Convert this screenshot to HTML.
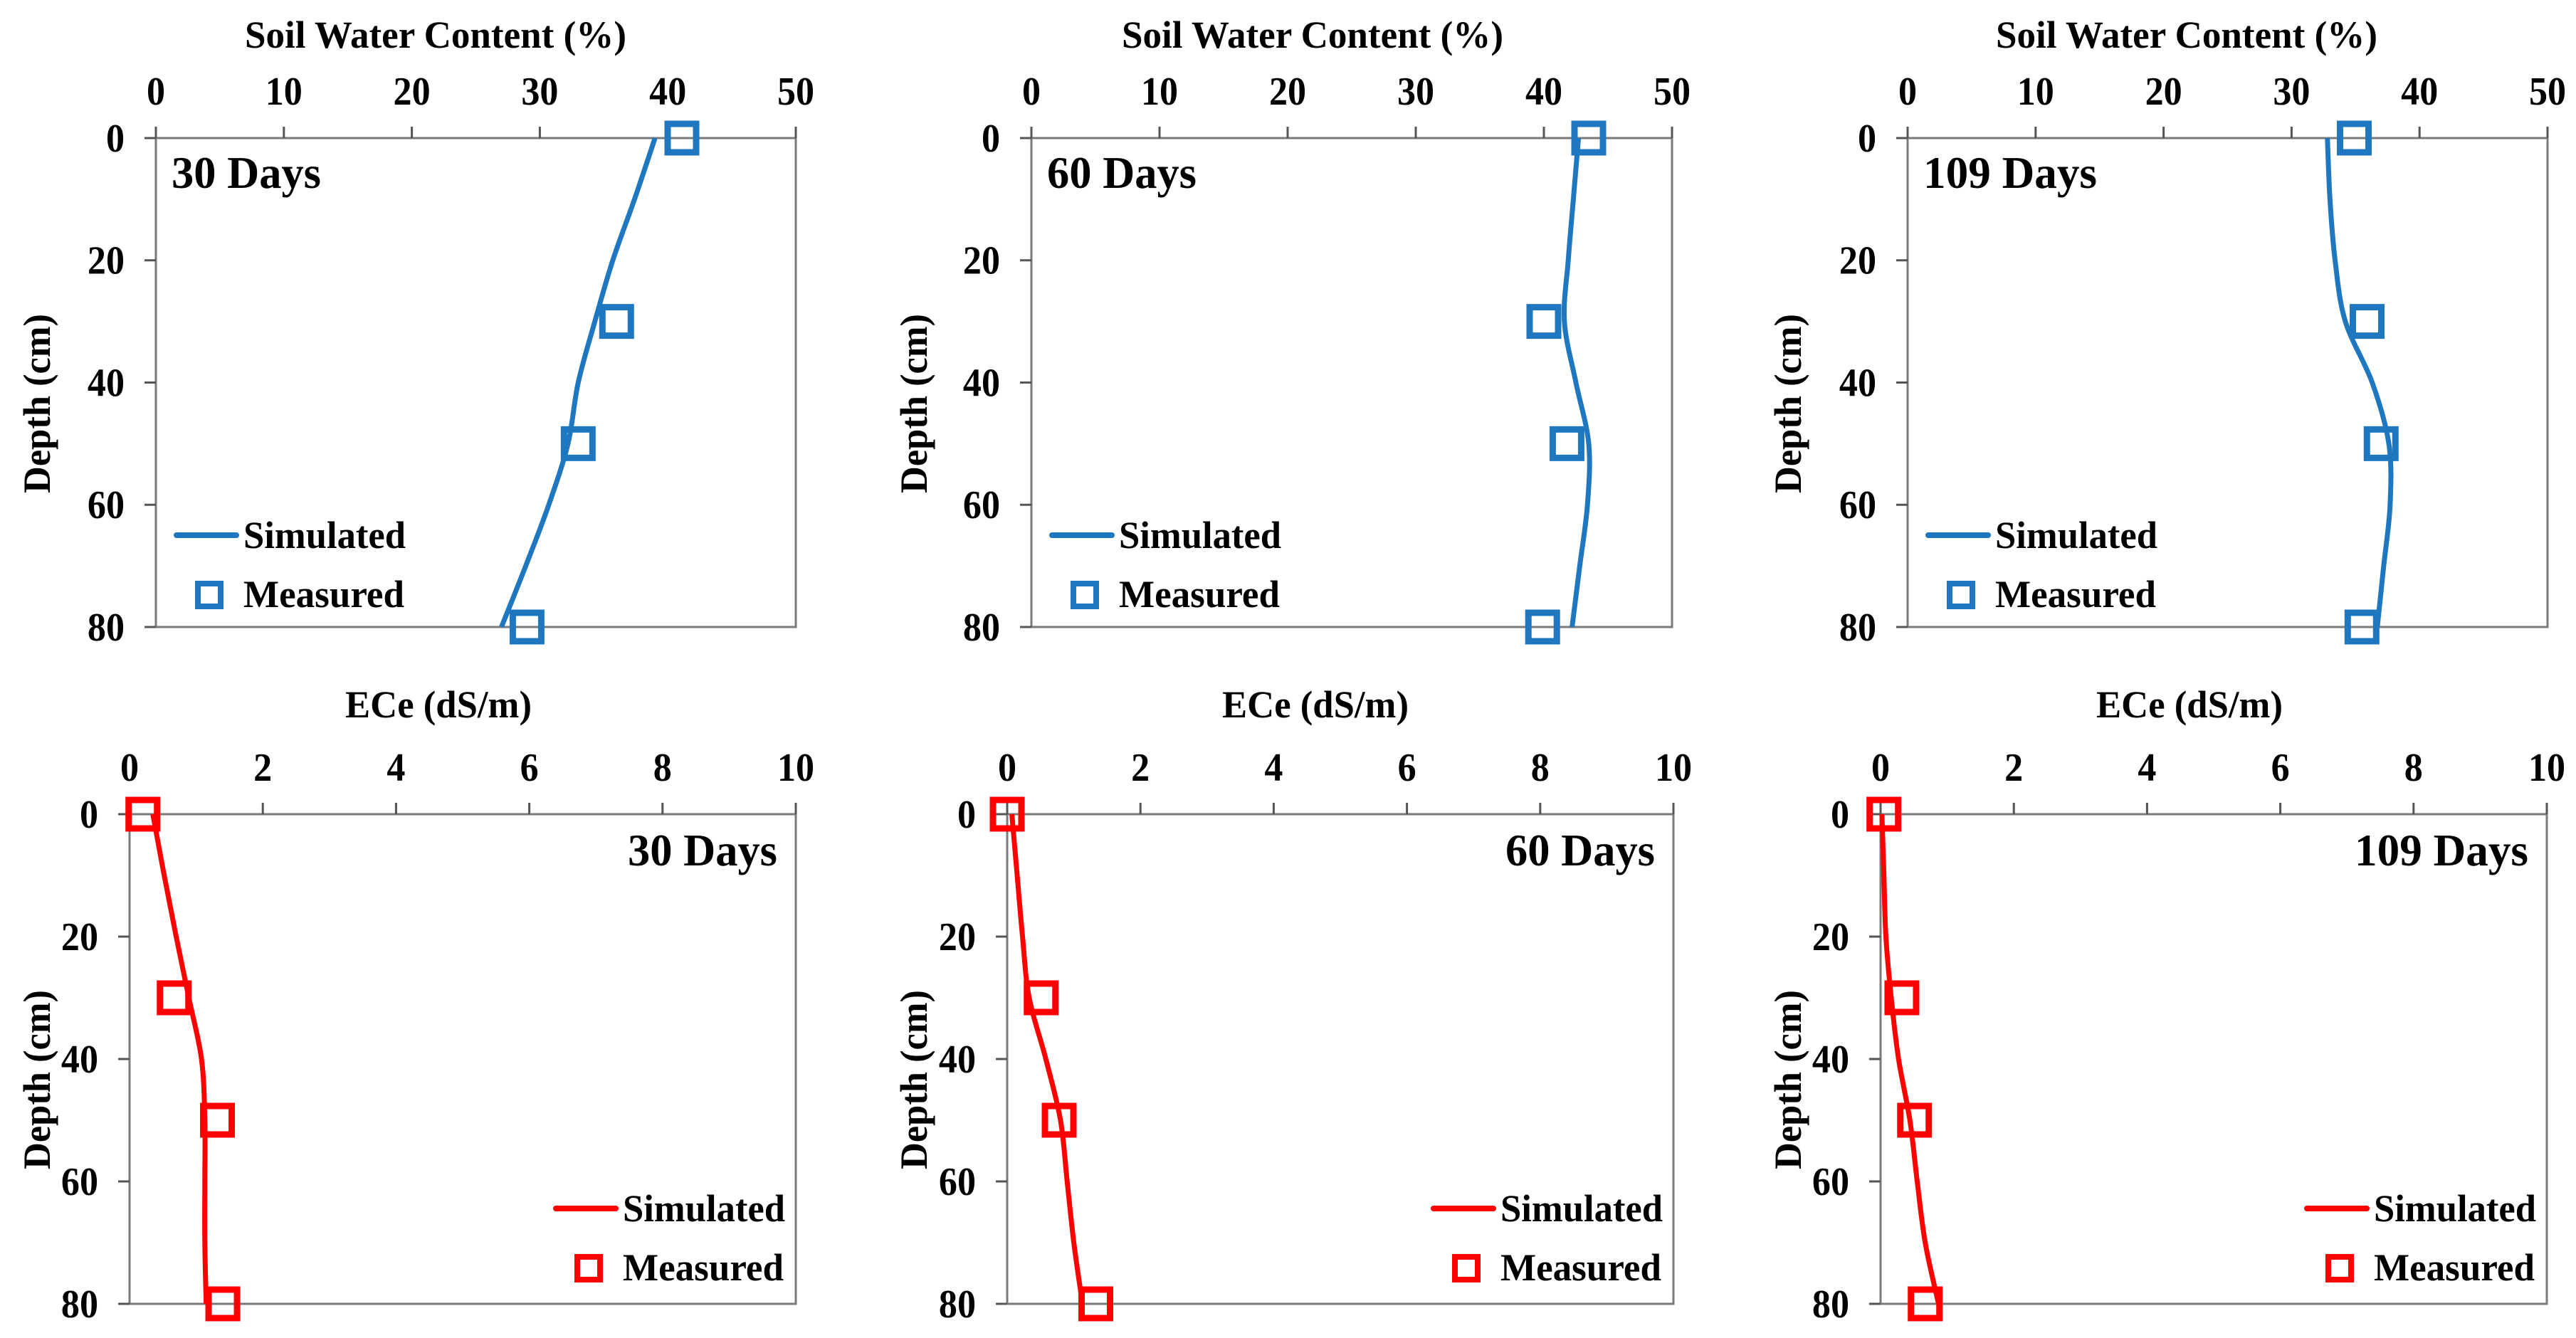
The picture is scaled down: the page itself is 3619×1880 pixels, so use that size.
<!DOCTYPE html>
<html><head><meta charset="utf-8"><style>
html,body{margin:0;padding:0;background:#fff;}
svg{display:block;}
text{font-family:"Liberation Serif",serif;font-weight:bold;fill:#000;}
</style></head><body>
<svg id="fig" width="3619" height="1880" viewBox="0 0 3619 1880" xmlns="http://www.w3.org/2000/svg"></svg>
<script>
// ---- data ----
const depthsMeasured = [0, 30, 50, 80];
const depthsSim = [0, 10, 20, 30, 40, 50, 60, 70, 80];
const yTicks = [0, 20, 40, 60, 80];
const swcTicks = [0, 10, 20, 30, 40, 50];
const eceTicks = [0, 2, 4, 6, 8, 10];
const periodLabels = ["30 Days", "60 Days", "109 Days"];

const swcMeas30 = [41.1, 36.0, 33.0, 29.0];
const swcSim30 = [39.0, 37.4, 35.7, 34.3, 33.0, 32.2, 30.7, 28.9, 27.0];
const swcMeas60 = [43.5, 40.0, 41.8, 39.9];
const swcSim60 = [42.7, 42.3, 41.9, 41.6, 42.5, 43.5, 43.4, 42.8, 42.2];
const swcMeas109 = [34.9, 35.9, 37.0, 35.5];
const swcSim109 = [32.8, 33.0, 33.4, 34.2, 36.3, 37.6, 37.7, 37.2, 36.7];

const eceMeas30 = [0.2, 0.67, 1.32, 1.40];
const eceSim30 = [0.35, 0.52, 0.70, 0.89, 1.08, 1.13, 1.13, 1.13, 1.15];
const eceMeas60 = [0.0, 0.51, 0.78, 1.33];
const eceSim60 = [0.07, 0.15, 0.23, 0.33, 0.58, 0.80, 0.90, 1.0, 1.13];
const eceMeas109 = [0.05, 0.32, 0.51, 0.67];
const eceSim109 = [0.02, 0.05, 0.08, 0.16, 0.27, 0.44, 0.55, 0.67, 0.87];

const NS = "http://www.w3.org/2000/svg";
const svg = document.getElementById("fig");
function el(tag, attrs, parent) {
  const e = document.createElementNS(NS, tag);
  for (const k in attrs) e.setAttribute(k, attrs[k]);
  (parent || svg).appendChild(e);
  return e;
}
function txt(str, attrs, parent) { const t = el("text", attrs, parent); t.textContent = str; return t; }

function smoothPath(pts) {
  let d = "M" + pts[0][0] + "," + pts[0][1];
  for (let i = 0; i < pts.length - 1; i++) {
    const p0 = pts[i - 1] || pts[i], p1 = pts[i], p2 = pts[i + 1], p3 = pts[i + 2] || p2;
    const c1 = [p1[0] + (p2[0] - p0[0]) / 6, p1[1] + (p2[1] - p0[1]) / 6];
    const c2 = [p2[0] - (p3[0] - p1[0]) / 6, p2[1] - (p3[1] - p1[1]) / 6];
    d += " C" + c1[0] + "," + c1[1] + " " + c2[0] + "," + c2[1] + " " + p2[0] + "," + p2[1];
  }
  return d;
}

function panel(cfg) {
  const g = el("g", {});
  
  
  const L = cfg.left, R = cfg.right, T = cfg.top, B = cfg.bottom;
  const xs = v => L + (v - cfg.xmin) / (cfg.xmax - cfg.xmin) * (R - L);
  const ys = v => T + v / 80 * (B - T);
  const fr = el("rect", {x: L, y: T, width: R - L, height: B - T, fill: "none", stroke: "#7a7a7a", "stroke-width": 3}, g);
  
  
  cfg.xticks.forEach(v => {
    const x = xs(v);
    const t = el("line", {x1: x, x2: x, y1: T - 16, y2: T, stroke: "#555", "stroke-width": 3}, g);
    
    
    const lb = txt(String(v), {x: x, y: cfg.xTickY, "font-size": 56, "text-anchor": "middle", transform: "translate(" + x + ",0) scale(0.93,1) translate(" + (-x) + ",0)"}, g);
    
    
  });
  yTicks.forEach(v => {
    const y = ys(v);
    const t = el("line", {x1: L - 16, x2: L, y1: y, y2: y, stroke: "#555", "stroke-width": 3}, g);
    
    
    const ax = L - 44;
    const lb = txt(String(v), {x: ax, y: y + 19, "font-size": 56, "text-anchor": "end", transform: "translate(" + ax + ",0) scale(0.93,1) translate(" + (-ax) + ",0)"}, g);
    
    
  });
  const xt = txt(cfg.xTitle, {x: cfg.titleX, y: cfg.titleY, "font-size": 54, "text-anchor": "middle", textLength: cfg.titleLen, lengthAdjust: "spacingAndGlyphs"}, g);
  
  
  const yt = txt("Depth (cm)", {x: 0, y: 0, "font-size": 54, "text-anchor": "middle", transform: "translate(" + (cfg.yTitleX + 18) + "," + cfg.yTitleY + ") rotate(-90)", textLength: 252, lengthAdjust: "spacingAndGlyphs"}, g);
  
  
  const pl = txt(cfg.period, {x: cfg.periodX, y: cfg.periodY, "font-size": 64, "text-anchor": cfg.periodAnchor, textLength: cfg.periodLen, lengthAdjust: "spacingAndGlyphs"}, g);
  
  
  const pts = depthsSim.map((d, i) => [xs(cfg.sim[i]), ys(d)]);
  const path = el("path", {d: smoothPath(pts), fill: "none", stroke: cfg.color, "stroke-width": 7, "stroke-linejoin": "round"}, g);
  
  
  depthsMeasured.forEach((d, i) => {
    const x = xs(cfg.meas[i]), y = ys(d);
    const m = el("rect", {x: x - 20, y: y - 20, width: 40, height: 40, fill: "none", stroke: cfg.color, "stroke-width": 9}, g);
    
    
  });
  const lx = L + cfg.legDx, ly = cfg.legY;
  const lg = el("g", {}, g);
  
  
  const ll = el("line", {x1: lx, x2: lx + 84, y1: ly, y2: ly, stroke: cfg.color, "stroke-width": 8, "stroke-linecap": "round"}, lg);
  
  
  const ls = txt("Simulated", {x: lx + 94, y: ly + 18, "font-size": 54, textLength: 228, lengthAdjust: "spacingAndGlyphs"}, lg);
  
  
  const lm = el("rect", {x: lx + 30, y: ly + 68, width: 32, height: 32, fill: "none", stroke: cfg.color, "stroke-width": 8}, lg);
  
  
  const lt = txt("Measured", {x: lx + 94, y: ly + 101, "font-size": 54, textLength: 226, lengthAdjust: "spacingAndGlyphs"}, lg);
  
  
}

const topLefts = [219, 1449, 2680];
const topRights = [1118, 2349, 3579];
const botLefts = [182, 1415, 2642];
const botRights = [1118, 2351, 3578];
const colBase = [0, 1232, 2460];
const periodLens = [210, 210, 244];
const swcMeasAll = [swcMeas30, swcMeas60, swcMeas109];
const swcSimAll = [swcSim30, swcSim60, swcSim109];
const eceMeasAll = [eceMeas30, eceMeas60, eceMeas109];
const eceSimAll = [eceSim30, eceSim60, eceSim109];

for (let c = 0; c < 3; c++) {
  panel({name: "swc-panel-" + periodLabels[c].split(" ")[0], left: topLefts[c], right: topRights[c], top: 194, bottom: 881,
    xmin: 0, xmax: 50, xticks: swcTicks, xTickY: 147, xTitle: "Soil Water Content (%)",
    titleX: colBase[c] + 612, titleY: 67, titleLen: 536, yTitleX: colBase[c] + 52, yTitleY: 567,
    period: periodLabels[c], periodX: topLefts[c] + 22, periodY: 264, periodAnchor: "start", periodLen: periodLens[c],
    sim: swcSimAll[c], meas: swcMeasAll[c], color: "#1f77c0", legDx: 29, legY: 752});
  panel({name: "ece-panel-" + periodLabels[c].split(" ")[0], left: botLefts[c], right: botRights[c], top: 1144, bottom: 1832,
    xmin: 0, xmax: 10, xticks: eceTicks, xTickY: 1097, xTitle: "ECe (dS/m)",
    titleX: colBase[c] + 616, titleY: 1008, titleLen: 262, yTitleX: colBase[c] + 52, yTitleY: 1517,
    period: periodLabels[c], periodX: botRights[c] - 26, periodY: 1216, periodAnchor: "end", periodLen: periodLens[c],
    sim: eceSimAll[c], meas: eceMeasAll[c], color: "#ff0000", legDx: 599, legY: 1698});
}
</script>
</body></html>
